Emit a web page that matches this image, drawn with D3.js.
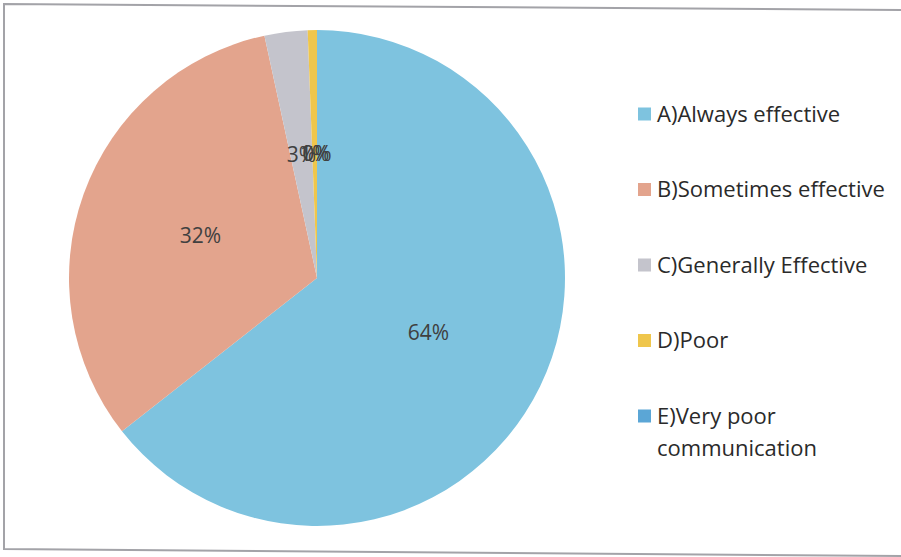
<!DOCTYPE html>
<html>
<head>
<meta charset="utf-8">
<script src="https://cdn.jsdelivr.net/npm/d3@7"></script>
<style>
  body { margin: 0; background: #fff; }
  svg { display: block; }
</style>
</head>
<body>
<div id="chart"></div>
<script>
// response categories, share of answers (%) and slice colours
var categories = ["A)Always effective", "B)Sometimes effective", "C)Generally Effective", "D)Poor", "E)Very poor communication"];
var legendLines = [["A)Always effective"], ["B)Sometimes effective"], ["C)Generally Effective"], ["D)Poor"], ["E)Very poor", "communication"]];
var values = [64.4, 32.2, 2.8, 0.6, 0];
var colors = ["#7ec3df", "#e3a48d", "#c4c4cc", "#efc64c", "#5ba6d6"];

var width = 901, height = 557;

var svg = d3.select("#chart").append("svg")
    .attr("width", width)
    .attr("height", height);

// scanned frame round the chart
svg.append("path")
    .attr("d", "M4,4 L906,10 L906,556 L4,549 Z")
    .attr("fill", "none")
    .attr("stroke", "#a3a3a8")
    .attr("stroke-width", 2);

var data = categories.map(function(c, i) { return {name: c, value: values[i]}; });

var color = d3.scaleOrdinal()
    .domain(categories)
    .range(colors);

var radius = 248;
var g = svg.append("g")
    .attr("transform", "translate(317,278)");

var pie = d3.pie()
    .sort(null)
    .value(function(d) { return d.value; });

var arc = d3.arc()
    .innerRadius(0)
    .outerRadius(radius);

var arcs = pie(data);

g.selectAll("path.slice")
  .data(arcs)
  .enter()
  .append("path")
    .attr("class", "slice")
    .attr("d", arc)
    .attr("fill", function(d) { return color(d.data.name); });

// data labels at the centroid (the small ones pile up, as in the original)
g.selectAll("text.lbl")
  .data(arcs)
  .enter()
  .append("text")
    .attr("class", "lbl")
    .attr("transform", function(d) { return "translate(" + arc.centroid(d) + ")"; })
    .attr("text-anchor", "middle")
    .attr("dy", "0.35em")
    .style("font-family", "'Open Sans', sans-serif")
    .style("font-size", "21px")
    .style("fill", "#404040")
    .text(function(d) { return Math.round(d.data.value) + "%"; });

// legend
var legend = svg.append("g")
    .attr("transform", "translate(638,114)");

var row = legend.selectAll("g.row")
  .data(categories)
  .enter()
  .append("g")
    .attr("class", "row")
    .attr("transform", function(d, i) { return "translate(0," + (i * 75.5) + ")"; });

row.append("rect")
    .attr("x", 0)
    .attr("y", -6.5)
    .attr("width", 13)
    .attr("height", 13)
    .attr("fill", function(d) { return color(d); });

row.append("text")
    .attr("x", 19)
    .style("font-family", "'Open Sans', sans-serif")
    .style("font-size", "22px")
    .style("fill", "#2a2a2a")
    .selectAll("tspan")
    .data(function(d, i) { return legendLines[i]; })
    .enter()
    .append("tspan")
      .attr("x", 19)
      .attr("dy", function(d, j) { return j === 0 ? "0.35em" : "32px"; })
      .text(function(d) { return d; });
</script>
</body>
</html>
